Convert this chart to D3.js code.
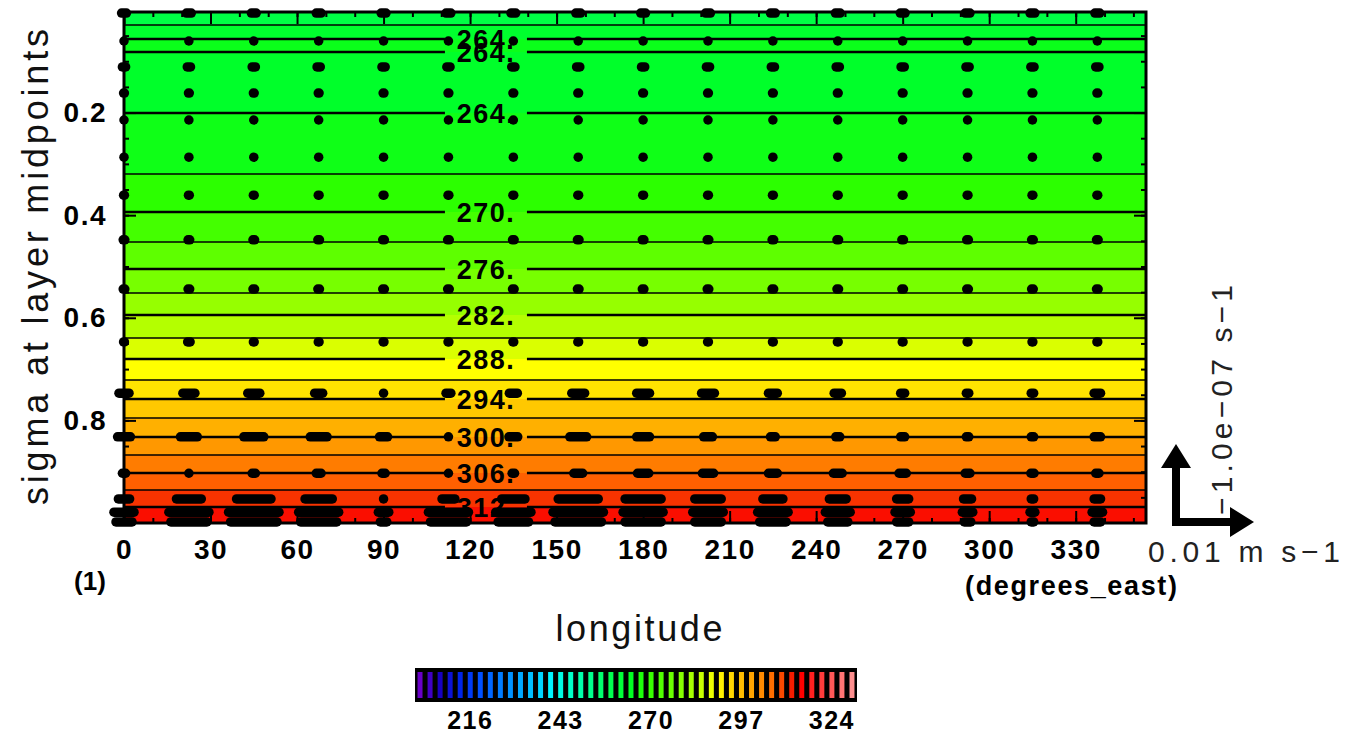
<!DOCTYPE html>
<html>
<head>
<meta charset="utf-8">
<script src="https://cdn.jsdelivr.net/npm/d3@7"></script>
<style>
  html, body { margin: 0; padding: 0; background: #ffffff; }
  svg { display: block; font-family: "Liberation Sans", Arial, Helvetica, sans-serif; }
</style>
</head>
<body>
<svg id="chart" width="1346" height="734"></svg>
<script>
// ---- temperature (K): zonally uniform, contour crossings in sigma ----
const contourLevels = [261, 264, 264, 264, 267, 270, 273, 276, 279, 282, 285, 288, 291, 294, 297, 300, 303, 306, 309, 312];
const contourSigma  = [0.0293, 0.0566, 0.0820, 0.2009, 0.3198, 0.3938, 0.4523, 0.5049, 0.5517, 0.5946,
                       0.6394, 0.6803, 0.7213, 0.7583, 0.7954, 0.8324, 0.8675, 0.9026, 0.9357, 0.9689];
// temperature inside each band, top of the section to the bottom
const bandTemps = [259.5, 262.5, 265, 263, 265.5, 268.5, 271.5, 274.5, 277.5, 280.5, 283.5,
                   286.5, 289.5, 292.5, 295.5, 298.5, 301.5, 304.5, 307.5, 310.5, 313.5];
const labelEvery = 6;          // contour levels that carry a label are multiples of this

// ---- wind vectors: u component (m s-1) on a 22.5 degree grid at model levels ----
const vecLon = [0, 22.5, 45, 67.5, 90, 112.5, 135, 157.5, 180, 202.5, 225, 247.5, 270, 292.5, 315, 337.5];
const vecSigma = [0.006, 0.0605, 0.111, 0.162, 0.2145, 0.287, 0.361, 0.448, 0.544, 0.647,
                  0.747, 0.832, 0.903, 0.953, 0.979, 0.998];
const uWind = [
  [0.0006, 0.0006, 0.0006, 0.0006, 0.0006, 0.0006, 0.0006, 0.0006, 0.0006, 0.0006, 0.0006, 0.0006, 0.0006, 0.0006, 0.0006, 0.0006],
  [0, 0, 0, 0, 0, 0, 0, 0, 0, 0, 0, 0, 0, 0, 0, 0],
  [0.0004, 0.0004, 0.0004, 0.0004, 0.0004, 0.0004, 0.0004, 0.0004, 0.0004, 0.0004, 0.0004, 0.0004, 0.0004, 0.0004, 0.0004, 0.0004],
  [0.0001, 0.0001, 0.0001, 0.0001, 0.0001, 0.0001, 0.0001, 0.0001, 0.0001, 0.0001, 0.0001, 0.0001, 0.0001, 0.0001, 0.0001, 0.0001],
  [0, 0, 0, 0, 0, 0, 0, 0, 0, 0, 0, 0, 0, 0, 0, 0],
  [0, 0, 0, 0, 0, 0, 0, 0, 0, 0, 0, 0, 0, 0, 0, 0],
  [0.0001, 0.0001, 0.0001, 0.0001, 0.0001, 0.0001, 0.0001, 0.0001, 0.0001, 0.0001, 0.0001, 0.0001, 0.0001, 0.0001, 0.0001, 0.0001],
  [0.0002, 0.0002, 0.0002, 0.0002, 0.0002, 0.0002, 0.0002, 0.0002, 0.0002, 0.0002, 0.0002, 0.0002, 0.0002, 0.0002, 0.0002, 0.0002],
  [0.0002, 0.0002, 0.0002, 0.0002, 0.0002, 0.0002, 0.0002, 0.0002, 0.0002, 0.0002, 0.0002, 0.0002, 0.0002, 0.0002, 0.0002, 0.0002],
  [0.0001, 0.0003, 0.0001, 0.0001, 0.0001, 0.0001, 0.0001, 0.0001, 0.0001, 0.0001, 0.0001, 0.0001, 0.0001, 0.0001, 0.0001, 0.0001],
  [0.00125, 0.0015, 0.0015, 0.001, 0, 0.0006, 0.001, 0.0016, 0.0016, 0.0016, 0.0011, 0.0009, 0.0005, 0.0003, 0.0003, 0.0008],
  [0.0016, 0.0021, 0.0025, 0.0021, 0.001, 0, 0.0011, 0.0021, 0.0016, 0.0011, 0.0006, 0.0005, 0.0005, 0.0003, 0.0003, 0.0008],
  [0.0004, 0, 0.0004, 0.0006, 0.0004, 0, 0.0003, 0.0011, 0.0014, 0.0014, 0.0011, 0.0011, 0.0009, 0.0006, 0.0004, 0.0004],
  [0.0014, 0.0031, 0.0043, 0.0034, 0, 0.0016, 0.0029, 0.005, 0.0045, 0.0033, 0.0025, 0.0021, 0.0015, 0.001, 0.0003, 0.0008],
  [0.0025, 0.005, 0.0063, 0.005, 0.0013, 0.005, 0.0044, 0.0063, 0.005, 0.0038, 0.0038, 0.0031, 0.0019, 0.0013, 0.0006, 0.0013],
  [0.002, 0.0045, 0.0058, 0.0045, 0.0008, 0.0045, 0.0038, 0.0058, 0.0045, 0.0033, 0.0033, 0.0025, 0.0015, 0.0008, 0.0003, 0.0008]
];
const refU = 0.01;             // reference vector, m s-1

// ---- axes and colour bar ----
const lonMax = 354.375;
const sigmaTop = 0.004, sigmaBottom = 1.0;
const xTicks = [0, 30, 60, 90, 120, 150, 180, 210, 240, 270, 300, 330];
const xMinorTicks = d3.range(0, 355, 10);
const yTicks = [0.2, 0.4, 0.6, 0.8];
const yMinorTicks = d3.range(0.05, 0.99, 0.05);
const colorbarValues = d3.range(201, 331, 3);
const colorbarTicks = [216, 243, 270, 297, 324];

// colour map anchors (K -> colour)
const cmapValues = [201, 207, 213, 219, 225, 231, 237, 240, 246, 252, 258, 264, 268.5, 271.5, 277.5,
                    283.5, 289.5, 295.5, 301.5, 307.5, 312, 315, 318, 321, 324, 327, 330];
const cmapColors = ["#6a00c8", "#1800c0", "#0024e8", "#0050ff", "#007cff", "#00a8ff", "#00d4ff", "#00f4ff",
                    "#00ffc8", "#00ff8c", "#00ff50", "#00ff22", "#2cff00", "#44ff00", "#77ff00",
                    "#b4ff00", "#ffff00", "#ffc800", "#ff9800", "#ff6000", "#f41c00", "#ff0000",
                    "#ff2020", "#ff3c3c", "#ff5858", "#ff7474", "#ff9090"];

// ---- layout ----
const plot = { left: 124, right: 1146, top: 12, bottom: 523 };

const svg = d3.select("#chart");
const x = d3.scaleLinear().domain([0, lonMax]).range([plot.left, plot.right]);
const y = d3.scaleLinear().domain([sigmaTop, sigmaBottom]).range([plot.top, plot.bottom]);
const color = d3.scaleLinear().domain(cmapValues).range(cmapColors).interpolate(d3.interpolateRgb).clamp(true);

// filled bands between contour crossings
const bounds = [sigmaTop, ...contourSigma, sigmaBottom];
svg.append("g").selectAll("rect")
  .data(bandTemps)
  .join("rect")
  .attr("x", plot.left)
  .attr("width", plot.right - plot.left)
  .attr("y", (d, i) => y(bounds[i]))
  .attr("height", (d, i) => y(bounds[i + 1]) - y(bounds[i]))
  .attr("fill", d => color(d))
  .attr("shape-rendering", "crispEdges");

// contour lines, broken where a label sits
const labelLon = 125.5, labelHalfGap = 41;
const contours = contourLevels.map((lev, i) => ({ lev, s: contourSigma[i], labeled: lev % labelEvery === 0 }));
const gLines = svg.append("g").attr("stroke", "#000").attr("fill", "none");
contours.forEach(c => {
  const yy = y(c.s);
  const lx = x(labelLon);
  if (c.labeled) {
    gLines.append("line").attr("x1", plot.left).attr("x2", lx - labelHalfGap).attr("y1", yy).attr("y2", yy).attr("stroke-width", 2.6);
    gLines.append("line").attr("x1", lx + labelHalfGap).attr("x2", plot.right).attr("y1", yy).attr("y2", yy).attr("stroke-width", 2.6);
  } else {
    gLines.append("line").attr("x1", plot.left).attr("x2", plot.right).attr("y1", yy).attr("y2", yy).attr("stroke-width", 1.6);
  }
});
svg.append("g").selectAll("text")
  .data(contours.filter(c => c.labeled))
  .join("text")
  .attr("x", x(labelLon))
  .attr("y", d => y(d.s))
  .attr("dy", "0.36em")
  .attr("text-anchor", "middle")
  .attr("font-size", 27)
  .attr("font-weight", "bold")
  .attr("letter-spacing", 1.5)
  .attr("fill", "#000")
  .text(d => d.lev + ".");

// axes: inward ticks on all four sides
function styleAxis(g, fontSize) {
  g.select(".domain").remove();
  g.selectAll(".tick line").attr("stroke", "#000").attr("stroke-width", 2);
  g.attr("font-family", null).attr("font-size", fontSize).attr("font-weight", "bold");
  g.selectAll(".tick text").attr("fill", "#000").attr("letter-spacing", 1.5);
}
svg.append("g").attr("transform", `translate(0,${plot.top})`)
  .call(d3.axisTop(x).tickValues(xMinorTicks).tickSize(-5).tickFormat("")).call(g => styleAxis(g, 10));
svg.append("g").attr("transform", `translate(0,${plot.top})`)
  .call(d3.axisTop(x).tickValues(xTicks).tickSize(-12).tickFormat("")).call(g => styleAxis(g, 10));
svg.append("g").attr("transform", `translate(0,${plot.bottom})`)
  .call(d3.axisBottom(x).tickValues(xMinorTicks).tickSize(-5).tickFormat("")).call(g => styleAxis(g, 10));
svg.append("g").attr("transform", `translate(0,${plot.bottom})`)
  .call(d3.axisBottom(x).tickValues(xTicks).tickSize(-12).tickPadding(16).tickFormat(d3.format("d")))
  .call(g => styleAxis(g, 28));
svg.append("g").attr("transform", `translate(${plot.left},0)`)
  .call(d3.axisLeft(y).tickValues(yMinorTicks).tickSize(-5).tickFormat("")).call(g => styleAxis(g, 10));
svg.append("g").attr("transform", `translate(${plot.left},0)`)
  .call(d3.axisLeft(y).tickValues(yTicks).tickSize(-12).tickPadding(17).tickFormat(d3.format(".1f")))
  .call(g => styleAxis(g, 28));
svg.append("g").attr("transform", `translate(${plot.right},0)`)
  .call(d3.axisRight(y).tickValues(yMinorTicks).tickSize(-5).tickFormat("")).call(g => styleAxis(g, 10));
svg.append("g").attr("transform", `translate(${plot.right},0)`)
  .call(d3.axisRight(y).tickValues(yTicks).tickSize(-12).tickFormat("")).call(g => styleAxis(g, 10));

// frame
svg.append("rect")
  .attr("x", plot.left).attr("y", plot.top)
  .attr("width", plot.right - plot.left).attr("height", plot.bottom - plot.top)
  .attr("fill", "none").attr("stroke", "#000").attr("stroke-width", 3);

// wind vectors: very short arrows render as round blobs
const vlen = d3.scaleLinear().domain([0, refU]).range([0, 80]);
const vecs = [];
vecSigma.forEach((s, r) => vecLon.forEach((lon, c) => vecs.push({ lon, s, u: uWind[r][c] })));
svg.append("g").selectAll("line")
  .data(vecs)
  .join("line")
  .attr("x1", d => x(d.lon) - vlen(d.u) / 2 - 0.01)
  .attr("x2", d => x(d.lon) + vlen(d.u) / 2 + 0.01)
  .attr("y1", d => y(d.s))
  .attr("y2", d => y(d.s))
  .attr("stroke", "#000")
  .attr("stroke-width", 9.5)
  .attr("stroke-linecap", "round");

// reference vectors
const ref = { x: 1176, y: 522 };
const refLen = vlen(refU) - 2;
const shaft = 4, headL = 24, headW = 15;
svg.append("path")
  .attr("fill", "#000")
  .attr("d", [
    `M${ref.x - shaft},${ref.y + shaft}`,
    `L${ref.x + refLen - headL},${ref.y + shaft}`,
    `L${ref.x + refLen - headL},${ref.y + headW}`,
    `L${ref.x + refLen},${ref.y}`,
    `L${ref.x + refLen - headL},${ref.y - headW}`,
    `L${ref.x + refLen - headL},${ref.y - shaft}`,
    `L${ref.x + shaft},${ref.y - shaft}`,
    `L${ref.x + shaft},${ref.y - refLen + headL}`,
    `L${ref.x + headW},${ref.y - refLen + headL}`,
    `L${ref.x},${ref.y - refLen}`,
    `L${ref.x - headW},${ref.y - refLen + headL}`,
    `L${ref.x - shaft},${ref.y - refLen + headL}`,
    "Z"
  ].join(""));
svg.append("text")
  .attr("x", 1148).attr("y", 562)
  .attr("font-size", 30).attr("fill", "#222")
  .attr("textLength", 192).attr("lengthAdjust", "spacing")
  .text("0.01 m s\u22121");
svg.append("text")
  .attr("transform", "translate(1232,515) rotate(-90)")
  .attr("font-size", 30).attr("fill", "#222")
  .attr("textLength", 230).attr("lengthAdjust", "spacing")
  .text("\u22121.0e\u221207 s\u22121");

// axis titles and unit labels
svg.append("text")
  .attr("transform", "translate(48,267) rotate(-90)")
  .attr("text-anchor", "middle")
  .attr("font-size", 36).attr("fill", "#111")
  .attr("textLength", 476).attr("lengthAdjust", "spacing")
  .text("sigma at layer midpoints");
svg.append("text")
  .attr("x", 639).attr("y", 641)
  .attr("text-anchor", "middle")
  .attr("font-size", 36).attr("fill", "#111")
  .attr("textLength", 167).attr("lengthAdjust", "spacing")
  .text("longitude");
svg.append("text")
  .attr("x", 90).attr("y", 590)
  .attr("text-anchor", "middle")
  .attr("font-size", 26).attr("font-weight", "bold")
  .text("(1)");
svg.append("text")
  .attr("x", 1071).attr("y", 595)
  .attr("text-anchor", "middle")
  .attr("font-size", 27).attr("font-weight", "bold")
  .attr("textLength", 212).attr("lengthAdjust", "spacing")
  .text("(degrees_east)");

// colour bar
const cb = { left: 415, right: 857, top: 668, bottom: 702 };
const cbx = d3.scaleBand().domain(colorbarValues).range([cb.left, cb.right]);
const gcb = svg.append("g");
gcb.append("rect")
  .attr("x", cb.left).attr("y", cb.top)
  .attr("width", cb.right - cb.left).attr("height", cb.bottom - cb.top)
  .attr("fill", "#000");
gcb.selectAll("rect.strip")
  .data(colorbarValues)
  .join("rect")
  .attr("class", "strip")
  .attr("x", d => cbx(d) + cbx.bandwidth() / 2 - 2.5)
  .attr("width", 5)
  .attr("y", cb.top + 4)
  .attr("height", cb.bottom - cb.top - 8)
  .attr("fill", d => color(d));
gcb.selectAll("text")
  .data(colorbarTicks)
  .join("text")
  .attr("x", d => cbx(d) + cbx.bandwidth() / 2)
  .attr("y", 729)
  .attr("text-anchor", "middle")
  .attr("font-size", 25).attr("font-weight", "bold")
  .attr("letter-spacing", 1.5)
  .text(d => d);
</script>
</body>
</html>
